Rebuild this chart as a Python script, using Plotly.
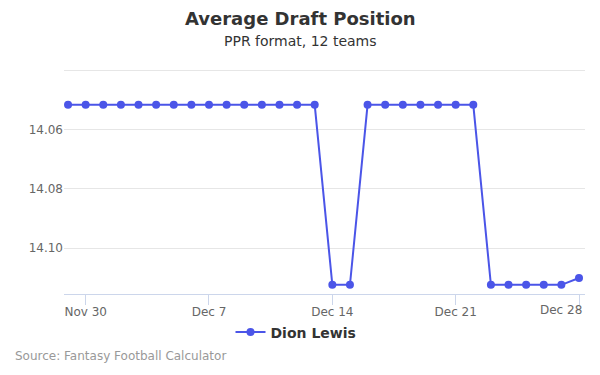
import plotly.graph_objects as go
import pandas as pd

dates = pd.date_range("2015-11-29", "2015-12-28", freq="D").strftime("%Y-%m-%d").tolist()
top = 14.0516
low = 14.1124
adp = [top]*15 + [low]*2 + [top]*7 + [low]*5 + [14.1101]
tick_dates = ["2015-11-30", "2015-12-07", "2015-12-14", "2015-12-21", "2015-12-28"]
tick_labels = ["Nov 30", "Dec 7", "Dec 14", "Dec 21", "Dec 28"]
y_ticks = [14.04, 14.06, 14.08, 14.10]
y_labels = ["", "14.06", "14.08", "14.10"]

font = "DejaVu Sans"
color = "#4b55e8"

fig = go.Figure()
fig.add_trace(go.Scatter(
    x=dates, y=adp, mode="lines+markers", name="<b>Dion Lewis</b>",
    line=dict(color=color, width=2),
    marker=dict(color=color, size=8),
))
fig.update_layout(
    width=600, height=375,
    margin=dict(l=64, r=15, t=69, b=81),
    paper_bgcolor="white", plot_bgcolor="white",
    font=dict(family=font, color="#666666", size=12),
    showlegend=True,
    legend=dict(orientation="h", x=(296-64)/521, xanchor="center", y=-0.1, yanchor="top",
                font=dict(family=font, size=14, color="#333333")),
    xaxis=dict(
        type="date",
        range=["2015-11-28 18:30", "2015-12-28 08:10"],
        tickvals=tick_dates, ticktext=tick_labels[:-1] + [""],
        showgrid=False, showline=True, linecolor="#ccd6eb", linewidth=1,
        ticks="outside", ticklen=10, tickcolor="#ccd6eb",
        ticklabelstandoff=-3,
        tickfont=dict(size=12, color="#666666"),
        zeroline=False,
    ),
    yaxis=dict(
        range=[14.1155, 14.0395],
        tickvals=y_ticks, ticktext=y_labels,
        showgrid=True, gridcolor="#e6e6e6", gridwidth=1,
        zeroline=False, showline=False,
        tickfont=dict(size=12, color="#666666"),
        ticklen=0, ticks="",
    ),
)
# title & subtitle
fig.add_annotation(text="<b>Average Draft Position</b>", xref="paper", yref="paper",
                   x=(300-64)/521, xanchor="center", y=(294-19)/225, yanchor="middle",
                   showarrow=False, font=dict(family=font, size=18, color="#333333"))
fig.add_annotation(text="PPR format, 12 teams", xref="paper", yref="paper",
                   x=(300-64)/521, xanchor="center", y=(294-41)/225, yanchor="middle",
                   showarrow=False, font=dict(family=font, size=14, color="#333333"))
# last tick label kept inside the chart, as in the reference
fig.add_annotation(text=tick_labels[-1], xref="x", yref="paper",
                   x=tick_dates[-1], xanchor="right", xshift=5, y=-(310-294)/225, yanchor="middle",
                   showarrow=False, font=dict(family=font, size=12, color="#666666"))
fig.add_annotation(text="Source: Fantasy Football Calculator", xref="paper", yref="paper",
                   x=-51/521, xanchor="left", y=-(356-294)/225, yanchor="middle",
                   showarrow=False, font=dict(family=font, size=12, color="#999999"))
fig.write_html("out.html", post_script="document.body.style.margin='0';",
               config={"displayModeBar": False})
